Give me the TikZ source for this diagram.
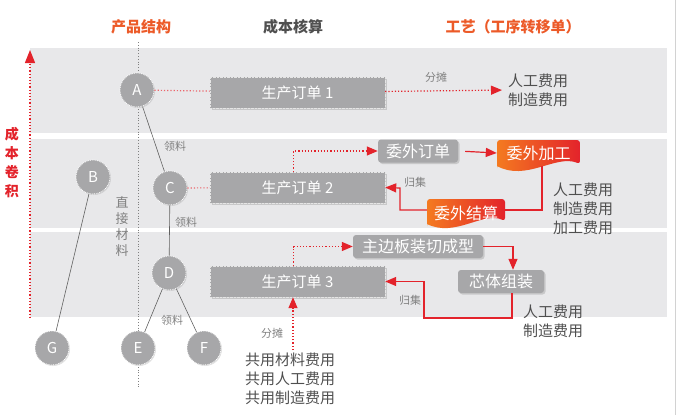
\documentclass[tikz,border=0pt]{standalone}
\usepackage{fontspec}
\setmainfont{Noto Sans CJK SC}
\usetikzlibrary{arrows.meta, shadows}
\definecolor{BandGray}{HTML}{E8E8EA}
\definecolor{BoxGray}{HTML}{A7A7A9}
\definecolor{CRed}{HTML}{E3232B}
\definecolor{COrange}{HTML}{EC5A28}
\definecolor{CFlame}{HTML}{F47A20}
\definecolor{TextGray}{HTML}{4F4F4F}

\begin{document}
\begin{tikzpicture}[
    x=1pt,   % X axis: pixel grid, to the right
    y=-1pt,  % Y axis: pixel grid, pointing down
    part/.style={circle, fill=BoxGray, draw=white, densely dotted, line width=0.8pt,
        minimum size=34pt, inner sep=0pt, text=white, font=\fontsize{15}{15}\selectfont,
        drop shadow={shadow xshift=1pt, shadow yshift=-1pt, opacity=0.25}},
    orderbox/.style={rectangle, fill=BoxGray, draw=white!70!BoxGray, densely dotted,
        minimum width=175pt, minimum height=31pt, text=white, font=\fontsize{15}{15}\selectfont,
        drop shadow={shadow xshift=1.5pt, shadow yshift=-1.5pt, opacity=0.3}},
    stepbox/.style={rectangle, rounded corners=3pt, fill=BoxGray, text=white,
        font=\fontsize{16}{16}\selectfont, minimum height=23pt,
        drop shadow={shadow xshift=1.5pt, shadow yshift=-1.5pt, opacity=0.3}},
    wavelabel/.style={text=white, font=\fontsize{16}{16}\selectfont, inner sep=0pt},
    costtext/.style={align=left, text=TextGray, font=\fontsize{15}{19}\selectfont, inner sep=0pt},
    note/.style={text=gray, font=\fontsize{11}{11}\selectfont},
    header/.style={font=\fontsize{15}{15}\selectfont\bfseries},
    link/.style={TextGray!90, line width=0.6pt},
    tap/.style={CRed!70, dotted, line width=1.2pt},
    flow/.style={CRed, line width=1.2pt, -{Triangle[length=11pt, width=9pt]}},
    dotflow/.style={CRed, dotted, line width=1.2pt, -{Triangle[length=11pt, width=9pt]}}
]
    \useasboundingbox (0,0) rectangle (680,415);

    % === BANDS ===
    \fill[BandGray] (30,48) rectangle (667,133);
    \fill[BandGray] (30,139) rectangle (667,228);
    \fill[BandGray] (30,232) rectangle (667,317);
    \draw[gray!35, line width=0.6pt] (675,0) -- (675,415);

    % === HEADERS ===
    \node[header, text=COrange] (hdrPart) at (141,27) {产品结构};
    \node[header, text=TextGray] (hdrCost) at (293,27) {成本核算};
    \node[header, text=COrange] (hdrProc) at (513,27) {工艺（工序转移单）};

    % === COST ROLL-UP AXIS ===
    \draw[CRed, dotted, line width=1.2pt, -{Triangle[length=13pt, width=10pt]}] (30,318) -- (30,50);
    \node[text=CRed, font=\fontsize{14}{19}\selectfont\bfseries, align=center] (rollup) at (12,163) {成\\本\\卷\\积};

    % === PRODUCT STRUCTURE ===
    \draw[gray, dotted, line width=0.8pt] (138,42) -- (138,387);
    \node[text=gray, font=\fontsize{13}{16}\selectfont, align=center] (direct) at (122,227) {直\\接\\材\\料};

    \node[part] (A) at (137,90) {A};
    \node[part] (B) at (93,177) {B};
    \node[part] (C) at (170,188) {C};
    \node[part] (D) at (169,273) {D};
    \node[part] (E) at (138,348) {E};
    \node[part] (F) at (204,348) {F};
    \node[part] (G) at (52,348) {G};

    \draw[link] (A) -- (C);
    \draw[link] (C) -- (D);
    \draw[link] (D) -- (E);
    \draw[link] (D) -- (F);
    \draw[link] (B) -- (G);

    \node[note] (pick1) at (175,146) {领料};
    \node[note] (pick2) at (186,222) {领料};
    \node[note] (pick3) at (172,320) {领料};

    % === PRODUCTION ORDERS ===
    \node[orderbox] (ord1) at (297.5,92.5) {生产订单 1};
    \node[orderbox] (ord2) at (297.5,187.5) {生产订单 2};
    \node[orderbox] (ord3) at (297.5,281.5) {生产订单 3};

    \draw[tap] (A) -- (ord1);
    \draw[tap] (C) -- (ord2);

    % === ROW 1: direct allocation ===
    \node[costtext, anchor=west] (cost1) at (508,90) {人工费用\\制造费用};
    \draw[dotflow, shorten >=6pt] (ord1) -- (cost1.west);
    \node[note] (alloc1) at (436,77) {分摊};

    % === ROW 2: outsourcing (drawn shapes first) ===
    \shade[left color=CFlame, right color=CRed, rounded corners=3pt]
        (497,168) -- (497,140) -- (580,140) -- (580,164)
        [sharp corners] .. controls (556,154) and (526,182) .. (497,166) -- cycle;
    \shade[left color=CFlame, right color=CRed, rounded corners=3pt]
        (427,226) -- (427,199) -- (505,199) -- (505,221)
        [sharp corners] .. controls (483,211) and (455,238) .. (427,224) -- cycle;

    \node[stepbox, minimum width=80pt] (wwdd) at (418,151) {委外订单};
    \node[wavelabel, minimum width=83pt, minimum height=26pt] (wwjg) at (538.5,153) {委外加工};
    \node[wavelabel, minimum width=78pt, minimum height=26pt] (wwjs) at (466,213) {委外结算};
    \coordinate (turn2) at (400,188);

    \draw[dotflow] ([xshift=-4pt]ord2.north) |- (wwdd.west);
    \draw[flow, shorten <=7pt] (wwdd.east) -- (wwjg.west);
    \draw[CRed, line width=1.2pt] ([xshift=3.5pt]wwjg.south) |- ([yshift=3pt]wwjs.east);
    \draw[flow] ([yshift=3pt]wwjs.west) -| (turn2) -- (ord2.east);
    \node[note] (collect2) at (415,182) {归集};
    \node[costtext, anchor=west] (cost2) at (553,209) {人工费用\\制造费用\\加工费用};

    % === ROW 3: in-house steps ===
    \node[stepbox, minimum width=130pt] (zbb) at (418,246.5) {主边板装切成型};
    \node[stepbox, minimum width=86pt] (xtzz) at (501,281.5) {芯体组装};
    \coordinate (low3) at (424,318);

    \draw[dotflow] ([xshift=-4pt]ord3.north) |- (zbb.west);
    \draw[flow] (zbb.east) -| ([xshift=12pt]xtzz.north);
    \draw[flow] ([xshift=11pt]xtzz.south) |- (low3) |- (ord3.east);
    \node[note] (collect3) at (410,300) {归集};
    \node[costtext, anchor=west] (cost3) at (523,321) {人工费用\\制造费用};

    % === SHARED COSTS ===
    \node[costtext, anchor=north west] (share) at (245,353) {共用材料费用\\共用人工费用\\共用制造费用};
    \draw[dotflow] (share.north -| ord3.south) ++(-4.5,-3) coordinate (shareTap) -- ([xshift=-4.5pt]ord3.south);
    \node[note] (alloc3) at (272,333) {分摊};

\end{tikzpicture}
\end{document}
